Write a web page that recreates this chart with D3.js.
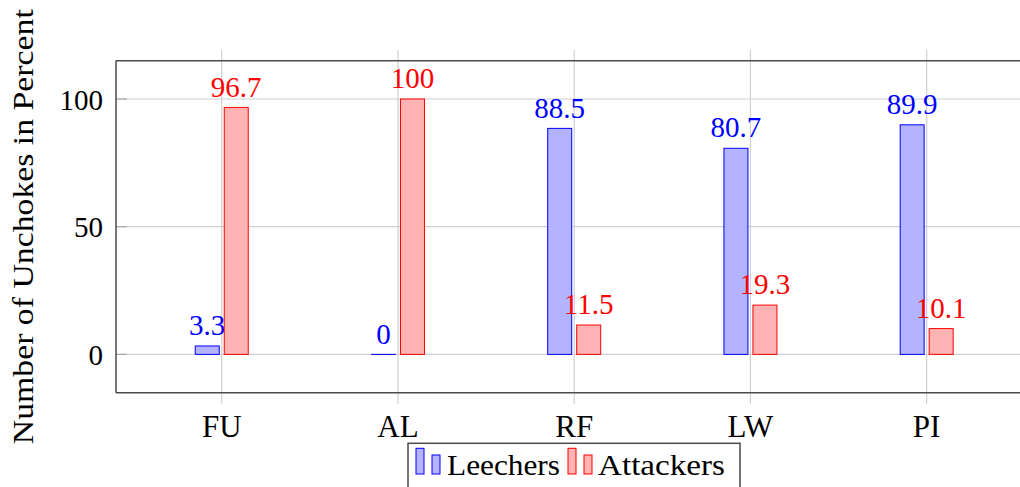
<!DOCTYPE html>
<html>
<head>
<meta charset="utf-8">
<script src="https://cdn.jsdelivr.net/npm/d3@7"></script>
<style>
  html, body { margin: 0; padding: 0; background: #fff; }
  svg { display: block; }
</style>
</head>
<body>
<svg id="chart" width="1020" height="487"></svg>
<script>
const categories = ["FU", "AL", "RF", "LW", "PI"];
const leechers = [3.3, 0, 88.5, 80.7, 89.9];
const attackers = [96.7, 100, 11.5, 19.3, 10.1];
const yTicks = [0, 50, 100];
const seriesNames = ["Leechers", "Attackers"];

(function () {
const svg = d3.select("#chart");
const pL = 116, pR = 1032.4, pT = 60.7, pB = 392.7;
const FONT = "'Liberation Serif', 'Times New Roman', Times, 'DejaVu Serif', serif";

const x = d3.scalePoint().domain(categories).range([pL, pR]).padding(0.6);
const y = d3.scaleLinear().domain([-15, 115]).range([pB, pT]);

const gridColor = "#cfcfcf";
const frameColor = "#4a4a4a";
const fs = 29;

// horizontal grid
svg.append("g").selectAll("line").data(yTicks).join("line")
  .attr("x1", pL).attr("x2", pR)
  .attr("y1", d => y(d)).attr("y2", d => y(d))
  .attr("stroke", gridColor).attr("stroke-width", 1.2);

// vertical grid (extends slightly outside frame as ticks)
svg.append("g").selectAll("line").data(categories).join("line")
  .attr("x1", d => x(d)).attr("x2", d => x(d))
  .attr("y1", pT - 11).attr("y2", pB + 11)
  .attr("stroke", gridColor).attr("stroke-width", 1.2);

// y tick marks inside
svg.append("g").selectAll("line").data(yTicks).join("line")
  .attr("x1", pL).attr("x2", pL + 11)
  .attr("y1", d => y(d)).attr("y2", d => y(d))
  .attr("stroke", "#a8a8a8").attr("stroke-width", 1.2);

const bw = 24, off = 14.5;
const series = [
  { name: seriesNames[0], values: leechers, fill: "#b3b3ff", stroke: "#0000ff", dx: -off },
  { name: seriesNames[1], values: attackers, fill: "#ffb3b3", stroke: "#ff0000", dx: off }
];

series.forEach(s => {
  const g = svg.append("g");
  g.selectAll("rect").data(categories).join("rect")
    .attr("x", (c) => x(c) + s.dx - bw / 2)
    .attr("width", bw)
    .attr("y", (c, i) => Math.min(y(s.values[i]), y(0)))
    .attr("height", (c, i) => Math.max(Math.abs(y(0) - y(s.values[i])), 0.01))
    .attr("fill", s.fill)
    .attr("stroke", s.stroke)
    .attr("stroke-width", 1);
  g.selectAll("text").data(categories).join("text")
    .attr("x", (c) => x(c) + s.dx)
    .attr("y", (c, i) => y(s.values[i]) - 10.8)
    .attr("text-anchor", "middle")
    .attr("font-family", FONT)
    .attr("font-size", fs)
    .attr("fill", s.stroke)
    .text((c, i) => d3.format("")(s.values[i]));
});

// frame
const frame = svg.append("g").attr("fill", "none").attr("stroke", frameColor).attr("stroke-width", 1.5);
frame.append("line").attr("x1", pL).attr("x2", pR).attr("y1", pT).attr("y2", pT);
frame.append("line").attr("x1", pL).attr("x2", pR).attr("y1", pB).attr("y2", pB);
frame.append("line").attr("x1", pL).attr("x2", pL).attr("y1", pT).attr("y2", pB);
frame.append("line").attr("x1", pR).attr("x2", pR).attr("y1", pT).attr("y2", pB);

// y tick labels
svg.append("g").selectAll("text").data(yTicks).join("text")
  .attr("x", 103).attr("y", d => y(d) + 10.5)
  .attr("text-anchor", "end")
  .attr("font-family", FONT)
  .attr("font-size", fs)
  .text(d => d);

// x tick labels
svg.append("g").selectAll("text").data(categories).join("text")
  .attr("x", d => x(d)).attr("y", 436.7)
  .attr("text-anchor", "middle")
  .attr("font-family", FONT)
  .attr("font-size", 31)
  .text(d => d);

// y axis label
svg.append("text")
  .attr("transform", `translate(33, ${(pT + pB) / 2}) rotate(-90)`)
  .attr("text-anchor", "middle")
  .attr("font-family", FONT)
  .attr("font-size", 30)
  .attr("textLength", 435)
  .attr("lengthAdjust", "spacingAndGlyphs")
  .text("Number of Unchokes in Percent");

// legend
const lg = svg.append("g");
lg.append("rect").attr("x", 408).attr("y", 443.3).attr("width", 332).attr("height", 60)
  .attr("fill", "#fff").attr("stroke", frameColor).attr("stroke-width", 1.5);
const legendItems = [
  { s: series[0], ix: 416, tx: 447, tw: 113 },
  { s: series[1], ix: 568, tx: 598, tw: 127 }
];
legendItems.forEach(it => {
  lg.append("rect").attr("x", it.ix).attr("y", 448.3).attr("width", 8).attr("height", 25.7)
    .attr("fill", it.s.fill).attr("stroke", it.s.stroke).attr("stroke-width", 1);
  lg.append("rect").attr("x", it.ix + 16).attr("y", 455).attr("width", 8).attr("height", 19)
    .attr("fill", it.s.fill).attr("stroke", it.s.stroke).attr("stroke-width", 1);
  lg.append("text").attr("x", it.tx).attr("y", 475)
    .attr("font-family", FONT)
    .attr("font-size", 30)
    .attr("textLength", it.tw).attr("lengthAdjust", "spacingAndGlyphs")
    .text(it.s.name);
});
})();
</script>
</body>
</html>
